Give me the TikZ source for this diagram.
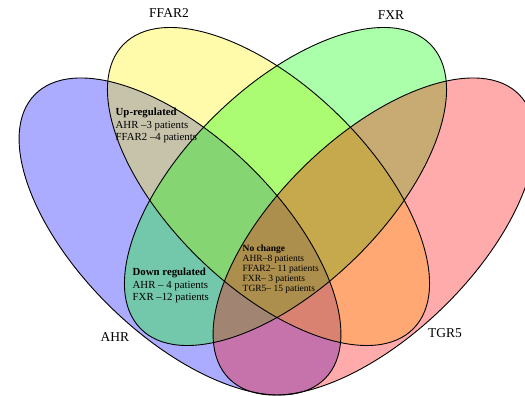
\documentclass[tikz,border=0pt]{standalone}
\usepackage{fontspec}
\setmainfont{Liberation Serif}

\begin{document}
\begin{tikzpicture}[x=1pt,y=1pt,
    set/.style={fill opacity=0.33},
    rim/.style={line width=0.9pt},
    gene/.style={font=\fontsize{13.5}{16}\selectfont},
    info/.style={anchor=north west, inner sep=0pt, align=left, font=\fontsize{10.8}{12.6}\selectfont}]
    \useasboundingbox (0,0) rectangle (525,396);
    \clip (0,0) rectangle (525,396);

    % the four sets, filled first
    \fill[blue,set,rotate around={-44.3:(180,159.5)}] (180,159.5) ellipse (203 and 99);
    \fill[yellow,set,rotate around={-44.4:(268.5,209.5)}] (268.5,209.5) ellipse (203 and 100);
    \fill[green,set,rotate around={44.4:(285.5,209.5)}] (285.5,209.5) ellipse (203 and 100);
    \fill[red,set,rotate around={44.3:(374,159.5)}] (374,159.5) ellipse (203 and 99);

    % outlines on top
    \draw[rim,rotate around={-44.3:(180,159.5)}] (180,159.5) ellipse (203 and 99);
    \draw[rim,rotate around={-44.4:(268.5,209.5)}] (268.5,209.5) ellipse (203 and 100);
    \draw[rim,rotate around={44.4:(285.5,209.5)}] (285.5,209.5) ellipse (203 and 100);
    \draw[rim,rotate around={44.3:(374,159.5)}] (374,159.5) ellipse (203 and 99);

    % set names
    \node[gene] (ahr) at (115,59) {AHR};
    \node[gene] (ffar) at (169,383) {FFAR2};
    \node[gene] (fxr) at (391,381) {FXR};
    \node[gene] (tgr) at (445,63) {TGR5};

    % counts
    \node[info] (up) at (115.5,288) {\textbf{Up-regulated}\\AHR --3 patients\\FFAR2 --4 patients};
    \node[info] (down) at (132.5,128) {\textbf{Down regulated}\\AHR -- 4 patients\\FXR --12 patients};
    \node[info,font=\fontsize{9.5}{10}\selectfont] (same) at (242.5,151)
        {\textbf{No change}\\AHR--8 patients\\FFAR2-- 11 patients\\FXR-- 3 patients\\TGR5-- 15 patients};
\end{tikzpicture}
\end{document}
